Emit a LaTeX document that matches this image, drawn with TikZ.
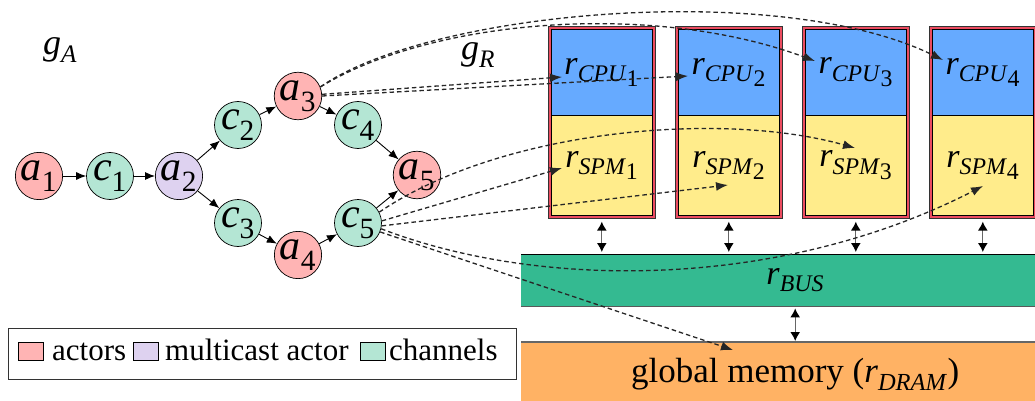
\documentclass[tikz,border=0pt]{standalone}
\usepackage{fontspec}
\setmainfont{Liberation Serif}
\usetikzlibrary{arrows.meta}
\definecolor{actred}{RGB}{255,180,180}
\definecolor{mcpurple}{RGB}{222,210,240}
\definecolor{changreen}{RGB}{180,230,212}
\definecolor{tilered}{RGB}{236,76,96}
\definecolor{cpublue}{RGB}{102,170,255}
\definecolor{spmyellow}{RGB}{255,236,139}
\definecolor{busgreen}{RGB}{52,186,145}
\definecolor{dramorange}{RGB}{255,178,100}
\newcommand\nl[2]{\textit{#1}\textsubscript{#2}}
\newcommand\rl[2]{\textit{r}\textsubscript{\textit{#1}\raisebox{-0.22em}{#2}}}
\tikzset{
  gnode/.style={circle, draw=black, line width=0.7pt, minimum size=47pt, inner sep=0pt, font=\fontsize{42}{42}\selectfont},
  actor/.style={gnode, fill=actred},
  mcast/.style={gnode, fill=mcpurple},
  chan/.style={gnode, fill=changreen},
  gedge/.style={-{Latex[length=10pt,width=8pt]}, line width=0.9pt},
  mapline/.style={draw=black!85, line width=1.3pt, dash pattern=on 4.5pt off 3pt, -{Latex[length=12pt,width=9pt]}},
  tileframe/.style={draw=black!80, line width=0.6pt, fill=tilered, minimum width=107pt, minimum height=192pt, anchor=north west, inner sep=0pt},
  cpubox/.style={draw=black, line width=0.6pt, fill=cpublue, minimum width=101pt, minimum height=86pt, anchor=north west, inner sep=0pt},
  spmbox/.style={draw=black, line width=0.6pt, fill=spmyellow, minimum width=101pt, minimum height=100pt, anchor=north west, inner sep=0pt},
  rlabel/.style={font=\fontsize{34}{34}\selectfont, inner sep=0pt},
  bidir/.style={{Latex[length=9pt,width=10pt,color=black]}-{Latex[length=9pt,width=10pt,color=black]}, line width=1.3pt, draw=black!60},
  legsq/.style={draw=black, line width=0.6pt, minimum width=25pt, minimum height=18pt, inner sep=0pt},
  legtext/.style={anchor=base west, inner sep=0pt, font=\fontsize{31}{31}\selectfont},
}
\begin{document}
\begin{tikzpicture}[x=1pt,y=-1pt]
\useasboundingbox (0,0) rectangle (1035,401);

% graph labels
\node[font=\fontsize{36}{36}\selectfont, inner sep=0pt] (gA) at (60,50) {\textit{g}\textsubscript{\textit{A}}};
\node[font=\fontsize{36}{36}\selectfont, inner sep=0pt] (gR) at (478,55) {\textit{g}\textsubscript{\textit{R}}};

% application graph
\node[actor] (a1) at (39,176) {\nl{a}{1}};
\node[chan]  (c1) at (110,176) {\nl{c}{1}};
\node[mcast] (a2) at (179,176) {\nl{a}{2}};
\node[chan]  (c2) at (238,125) {\nl{c}{2}};
\node[actor] (a3) at (298,96) {\nl{a}{3}};
\node[chan]  (c4) at (358,125) {\nl{c}{4}};
\node[actor] (a5) at (417,175) {\nl{a}{5}};
\node[chan]  (c3) at (238,223) {\nl{c}{3}};
\node[actor] (a4) at (298,255) {\nl{a}{4}};
\node[chan]  (c5) at (358,223) {\nl{c}{5}};

\draw[gedge] (a1) -- (c1);
\draw[gedge] (c1) -- (a2);
\draw[gedge] (a2) -- (c2);
\draw[gedge] (a2) -- (c3);
\draw[gedge] (c2) -- (a3);
\draw[gedge] (c3) -- (a4);
\draw[gedge] (a3) -- (c4);
\draw[gedge] (a4) -- (c5);
\draw[gedge] (c4) -- (a5);
\draw[gedge] (c5) -- (a5);

% bus and global memory
\node[fill=busgreen, minimum width=548pt, minimum height=52pt, anchor=north west, inner sep=0pt, font=\fontsize{34}{34}\selectfont] (bus) at (521,254) {\textit{r}\textsubscript{\textit{BUS}}};
\draw[black, line width=0.8pt] (bus.north west) -- (bus.north east);
\draw[black!65, line width=1.2pt] (bus.south west) -- (bus.south east);
\node[fill=dramorange, minimum width=548pt, minimum height=64pt, anchor=north west, inner sep=0pt, font=\fontsize{35}{35}\selectfont] (dram) at (521,342) {global memory (\textit{r}\textsubscript{\textit{DRAM}})};
\draw[black!60, line width=1.2pt] (dram.north west) -- (dram.north east);
\draw[bidir] ([yshift=-2pt]bus.south) -- ([yshift=1pt]dram.north);

% processor tiles
\foreach \i/\L in {1/548,2/675,3/802,4/929}{
  \node[tileframe] (t\i) at (\L,26) {};
  \node[cpubox] (cpu\i) at (\L+3,29) {};
  \node[spmbox] (spm\i) at (\L+3,115) {};
  \node[rlabel] (cpulab\i) at (cpu\i.center) {\rl{CPU}{\i}};
  \node[rlabel] (spmlab\i) at (spm\i.center) {\rl{SPM}{\i}};
  \draw[bidir] ([yshift=-3pt]t\i.south) -- ([yshift=2pt]t\i.south |- bus.north);
}

% legend
\node[draw=black!80, line width=0.7pt, minimum width=508pt, minimum height=51pt, anchor=north west, inner sep=0pt] (legend) at (8,328) {};
\node[legsq, fill=actred] (sq1) at (30.5,351) {};
\node[legtext] (lt1) at (52,360) {actors};
\node[legsq, fill=mcpurple] (sq2) at (145.5,351) {};
\node[legtext] (lt2) at (165,360) {multicast actor};
\node[legsq, fill=changreen] (sq3) at (372.5,351) {};
\node[legtext] (lt3) at (389,360) {channels};

% mapping targets
\coordinate (tcpu1) at (562,77);
\coordinate (tcpu2) at (688,76);
\coordinate (tcpu3) at (815,61);
\coordinate (tcpu4) at (943,60);
\coordinate (tspm1) at (562,168);
\coordinate (tspm2) at (728,185);
\coordinate (tspm3) at (855,148);
\coordinate (tspm4) at (983,186);
\coordinate (tdram) at (733,350);

% mapping connectors
\draw[mapline] (a3.4) -- (tcpu1);
\draw[mapline] (a3.0) -- (tcpu2);
\draw[mapline] (a3.22) .. controls (430,20) and (650,0) .. (tcpu3);
\draw[mapline] (a3.22) .. controls (430,10) and (780,-20) .. (tcpu4);
\draw[mapline] (c5.27) .. controls (500,130) and (720,110) .. (tspm3);
\draw[mapline] (c5.5) -- (tspm1);
\draw[mapline] (c5.-7) -- (tspm2);
\draw[mapline] (c5.-14) .. controls (540,290) and (780,290) .. (tspm4);
\draw[mapline] (c5.-22) -- (tdram);
\end{tikzpicture}
\end{document}
